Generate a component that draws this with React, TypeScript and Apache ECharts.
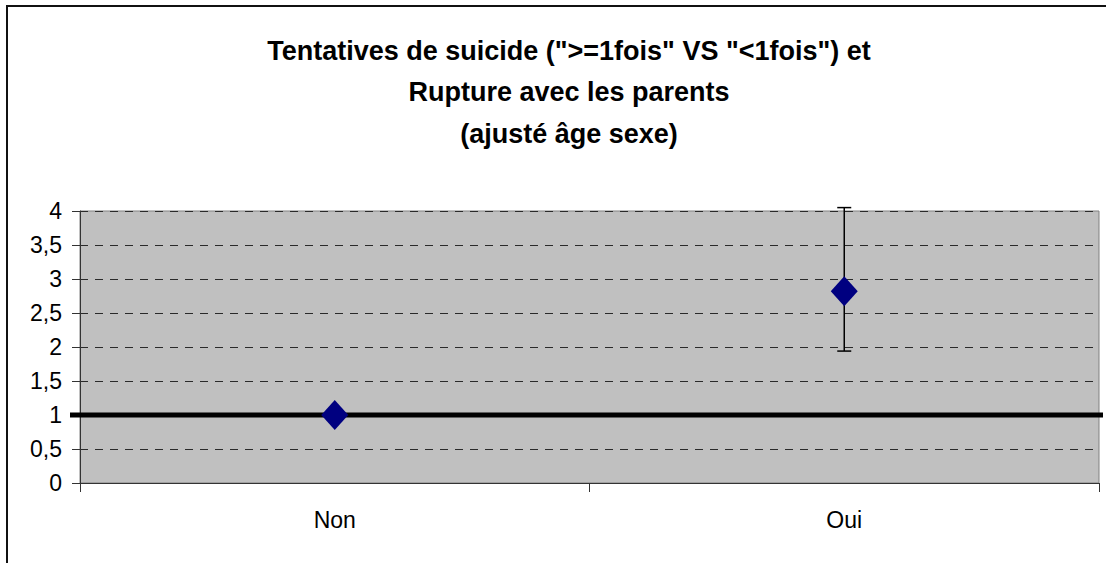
import React, { useEffect, useRef } from "react";
import * as echarts from "echarts";

const categories = ["Non", "Oui"];
const oddsRatios = [1, 2.82];
// [categoryIndex, lower CI, upper CI]
const confidenceIntervals = [[1, 1.94, 4.05]];
const referenceValue = 1;
const yTicks = { min: 0, max: 4, interval: 0.5 };
const titleLines = [
  'Tentatives de suicide (">=1fois" VS "<1fois") et',
  "Rupture avec les parents",
  "(ajusté âge sexe)",
];

export default function App() {
  const ref = useRef<HTMLDivElement>(null);
  useEffect(() => {
    if (!ref.current) return;
    const chart = echarts.init(ref.current, null, { renderer: "svg" });
    const font = "'Liberation Sans', Arial, sans-serif";
    chart.setOption({
      animation: false,
      backgroundColor: "#ffffff",
      title: {
        text: titleLines.join("\n"),
        left: 564,
        top: 25,
        textAlign: "center",
        textStyle: {
          fontFamily: font,
          fontSize: 27,
          fontWeight: "bold",
          color: "#000",
          lineHeight: 41.5,
        },
      },
      graphic: [
        {
          type: "polyline",
          shape: { points: [[7, 563], [7, 6], [1106, 6]] },
          style: { stroke: "#111", lineWidth: 2, fill: "none" },
          silent: true,
        },
      ],
      grid: {
        left: 80,
        top: 211,
        right: 7,
        bottom: 80,
        show: true,
        backgroundColor: "#C0C0C0",
        borderColor: "#808080",
        borderWidth: 1,
      },
      xAxis: {
        type: "category",
        data: categories,
        boundaryGap: true,
        axisLine: { show: true, lineStyle: { color: "#333", width: 1 } },
        axisTick: { show: true, length: 9, lineStyle: { color: "#333" } },
        axisLabel: {
          fontFamily: font,
          fontSize: 23,
          color: "#000",
          margin: 25,
        },
        splitLine: { show: false },
      },
      yAxis: {
        type: "value",
        min: yTicks.min,
        max: yTicks.max,
        interval: yTicks.interval,
        axisLine: { show: true, lineStyle: { color: "#333", width: 1 } },
        axisTick: { show: true, length: 8, lineStyle: { color: "#333" } },
        axisLabel: {
          fontFamily: font,
          fontSize: 23,
          color: "#000",
          margin: 18,
          formatter: (v: number) => String(v).replace(".", ","),
        },
        splitLine: {
          show: true,
          lineStyle: { color: "#2a2a2a", type: [8, 7], width: 1 },
        },
      },
      series: [
        {
          type: "custom",
          z: 2,
          silent: true,
          clip: false,
          data: [[0, referenceValue]],
          renderItem: (params: any, api: any) => {
            const cs = params.coordSys;
            const y = api.coord([0, api.value(1)])[1];
            return {
              type: "line",
              shape: { x1: cs.x - 10, y1: y, x2: cs.x + cs.width + 4, y2: y },
              style: { stroke: "#000", lineWidth: 5 },
            };
          },
        },
        {
          type: "custom",
          z: 3,
          silent: true,
          clip: false,
          data: confidenceIntervals,
          renderItem: (params: any, api: any) => {
            const lo = api.coord([api.value(0), api.value(1)]);
            const hi = api.coord([api.value(0), api.value(2)]);
            const cap = 7;
            const style = { stroke: "#000", lineWidth: 1.5 };
            return {
              type: "group",
              children: [
                { type: "line", shape: { x1: lo[0], y1: lo[1], x2: hi[0], y2: hi[1] }, style },
                { type: "line", shape: { x1: hi[0] - cap, y1: hi[1], x2: hi[0] + cap, y2: hi[1] }, style },
                { type: "line", shape: { x1: lo[0] - cap, y1: lo[1], x2: lo[0] + cap, y2: lo[1] }, style },
              ],
            };
          },
        },
        {
          type: "scatter",
          z: 4,
          data: oddsRatios,
          symbol: "diamond",
          symbolSize: [27, 30],
          itemStyle: { color: "#000080", opacity: 1 },
          emphasis: { disabled: true },
        },
      ],
    });
    return () => chart.dispose();
  }, []);
  return (
    <div
      ref={ref}
      style={{ position: "absolute", left: 0, top: 0, width: 1106, height: 563 }}
    />
  );
}
